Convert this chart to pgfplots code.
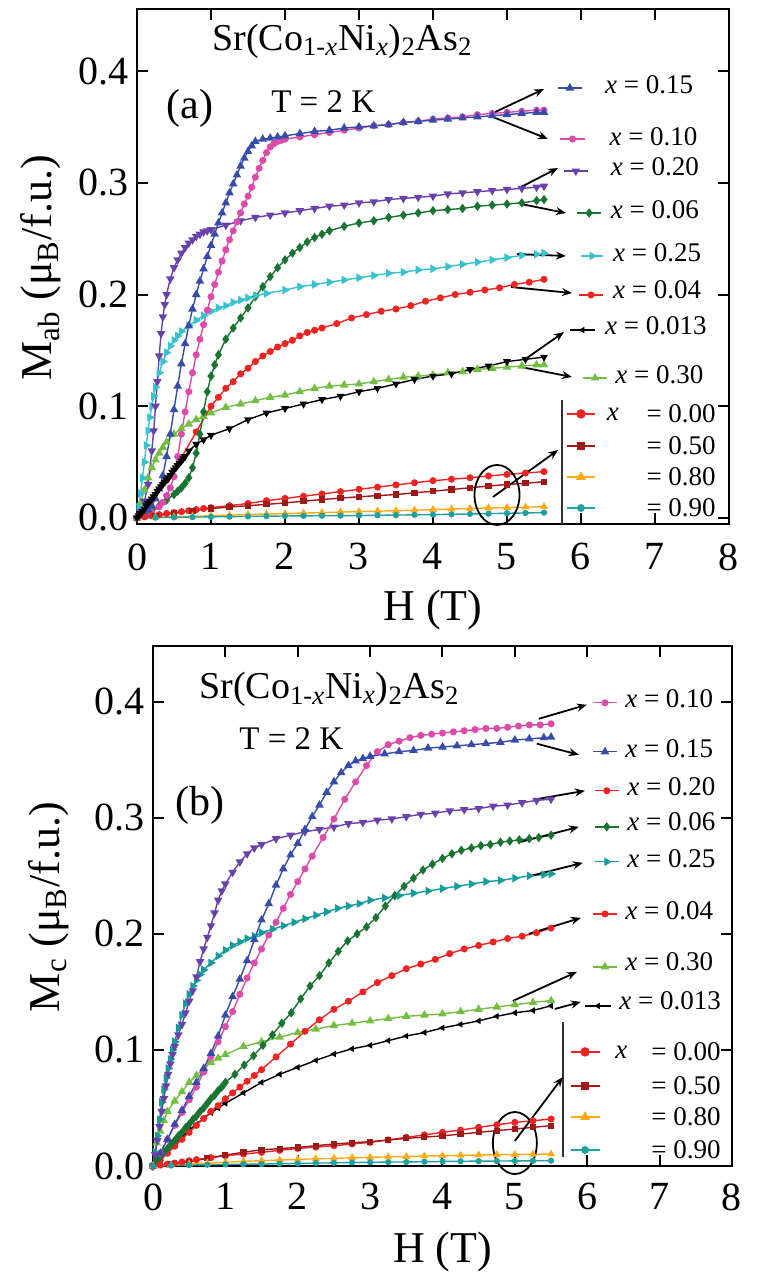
\documentclass[border=0pt]{standalone}
\usepackage{fontspec}
\setmainfont{Liberation Serif}
\usepackage{pgfplots}
\pgfplotsset{compat=1.18}
\usetikzlibrary{arrows.meta}

\definecolor{cblue}{HTML}{374BAA}
\definecolor{cpink}{HTML}{DC4BAA}
\definecolor{cpurple}{HTML}{6941AA}
\definecolor{cdgreen}{HTML}{197332}
\definecolor{ccyan}{HTML}{37C3CD}
\definecolor{cteal}{HTML}{149B9B}
\definecolor{cred}{HTML}{F02323}
\definecolor{clgreen}{HTML}{73BE41}
\definecolor{cdred}{HTML}{A01919}
\definecolor{corange}{HTML}{FFAA14}
\definecolor{cteal9}{HTML}{1EA0A0}

\newcommand{\tickfont}{\fontsize{20}{24}\selectfont}
\newcommand{\labfont}{\fontsize{22}{26}\selectfont}
\newcommand{\legfont}{\fontsize{13.5}{16}\selectfont}
\newcommand{\titfont}{\fontsize{19}{23}\selectfont}
\newcommand{\panfont}{\fontsize{21}{25}\selectfont}
\newcommand{\tfont}{\fontsize{16.5}{20}\selectfont}

\tikzset{arr/.style={-{Stealth[length=5pt,width=4pt]}, line width=0.9pt, black}}

\pgfplotsset{
  myax/.style={scale only axis, xmin=0, xmax=8, xtick={0,1,2,3,4,5,6,7,8},
    ytick={0,0.1,0.2,0.3,0.4},
    axis line style={line width=1pt},
    major tick style={line width=1pt, black},
    major tick length=5.5pt, tick align=inside,
    ticklabel style={font=\tickfont},
    /pgf/number format/assume math mode=true,
    yticklabel style={/pgf/number format/fixed, /pgf/number format/fixed zerofill, /pgf/number format/precision=1, inner sep=0pt, xshift=-4pt},
    clip=false,
    every axis plot/.append style={line width=0.7pt}},
  s15/.style={color=cblue, mark=triangle*, mark size=1.8pt},
  s10/.style={color=cpink, mark=*, mark size=1.4pt},
  s20/.style={color=cpurple, mark=triangle*, mark size=1.8pt, mark options={rotate=180}},
  s06/.style={color=cdgreen, mark=diamond*, mark size=1.8pt},
  s25a/.style={color=ccyan, mark=triangle*, mark size=1.8pt, mark options={rotate=-90}},
  s25b/.style={color=cteal, mark=triangle*, mark size=1.8pt, mark options={rotate=-90}},
  s04/.style={color=cred, mark=*, mark size=1.4pt},
  s013a/.style={color=black, mark=triangle*, mark size=1.6pt, mark options={rotate=180}},
  s013b/.style={color=black, mark=triangle*, mark size=1.2pt, mark options={rotate=90}},
  s30/.style={color=clgreen, mark=triangle*, mark size=1.8pt},
  s00/.style={color=cred, mark=*, mark size=1.4pt},
  s50/.style={color=cdred, mark=square*, mark size=1.2pt},
  s80/.style={color=corange, mark=triangle*, mark size=1.6pt},
  s90/.style={color=cteal9, mark=*, mark size=1.2pt},
}

\begin{document}
\begin{tikzpicture}
\path[use as bounding box] (0,0) rectangle (383.5pt,-641pt);

%%%%%%%%%%%%%%%%%%%%%%%% PANEL (a)
\begin{axis}[myax, at={(68.5pt,-262pt)}, anchor=south west,
  width=296pt, height=257.5pt, ymin=-0.0054, ymax=0.4555,
  xticklabel style={inner sep=0pt, yshift=-9.5pt}]
% x = 0.30
\addplot[s30] coordinates {(0,0) (0.05,0.014) (0.1,0.025) (0.15,0.036) (0.2,0.045) (0.25,0.052) (0.3,0.058) (0.35,0.063) (0.4,0.068) (0.5,0.075) (0.6,0.08) (0.7,0.084) (0.8,0.088) (0.9,0.091) (1.0,0.094) (1.2,0.099) (1.4,0.102) (1.6,0.105) (1.8,0.108) (2.0,0.11) (2.2,0.113) (2.4,0.116) (2.6,0.118) (2.8,0.119) (3.0,0.12) (3.2,0.122) (3.4,0.124) (3.6,0.126) (3.8,0.127) (4.0,0.128) (4.2,0.13) (4.4,0.131) (4.6,0.133) (4.8,0.134) (5.0,0.135) (5.2,0.136) (5.4,0.137) (5.5,0.137)};
% x = 0.04
\addplot[s04] coordinates {(0,0) (0.2,0.016) (0.4,0.034) (0.6,0.054) (0.8,0.077) (1.0,0.1) (1.1,0.108) (1.2,0.116) (1.3,0.122) (1.4,0.129) (1.5,0.134) (1.6,0.14) (1.7,0.145) (1.8,0.149) (1.9,0.153) (2.0,0.156) (2.1,0.159) (2.2,0.163) (2.3,0.166) (2.4,0.168) (2.5,0.17) (2.7,0.174) (2.9,0.179) (3.1,0.182) (3.3,0.185) (3.5,0.187) (3.7,0.19) (3.9,0.194) (4.1,0.197) (4.3,0.2) (4.5,0.202) (4.7,0.204) (4.9,0.206) (5.1,0.209) (5.3,0.211) (5.5,0.2136)};
% x = 0.06
\addplot[s06] coordinates {(0,0) (0.1,0.003) (0.2,0.007) (0.3,0.011) (0.4,0.016) (0.5,0.021) (0.55,0.024) (0.6,0.027) (0.65,0.031) (0.7,0.036) (0.75,0.045) (0.8,0.058) (0.85,0.075) (0.9,0.095) (0.95,0.113) (1.0,0.127) (1.05,0.137) (1.1,0.146) (1.2,0.16) (1.3,0.17) (1.4,0.179) (1.5,0.188) (1.6,0.198) (1.7,0.207) (1.8,0.216) (1.9,0.224) (2.0,0.231) (2.1,0.237) (2.2,0.242) (2.3,0.247) (2.4,0.251) (2.5,0.254) (2.6,0.257) (2.8,0.261) (3.0,0.264) (3.2,0.266) (3.4,0.269) (3.6,0.271) (3.8,0.273) (4.0,0.275) (4.2,0.276) (4.4,0.277) (4.6,0.279) (4.8,0.28) (5.0,0.281) (5.2,0.282) (5.4,0.284) (5.5,0.285)};
% x = 0.25
\addplot[s25a] coordinates {(0,0) (0.025,0.01) (0.05,0.022) (0.075,0.036) (0.1,0.05) (0.125,0.065) (0.15,0.078) (0.175,0.09) (0.2,0.1) (0.225,0.109) (0.25,0.117) (0.3,0.13) (0.35,0.14) (0.4,0.148) (0.45,0.154) (0.5,0.159) (0.55,0.163) (0.6,0.167) (0.7,0.172) (0.8,0.177) (0.9,0.181) (1.0,0.185) (1.1,0.188) (1.2,0.19) (1.3,0.193) (1.4,0.195) (1.5,0.197) (1.6,0.199) (1.75,0.201) (2.0,0.204) (2.2,0.207) (2.4,0.209) (2.6,0.211) (2.8,0.213) (3.0,0.215) (3.2,0.217) (3.4,0.219) (3.6,0.22) (3.8,0.222) (4.0,0.223) (4.2,0.225) (4.4,0.227) (4.6,0.229) (4.8,0.231) (5.0,0.233) (5.2,0.235) (5.4,0.236) (5.5,0.237)};
% x = 0.20
\addplot[s20] coordinates {(0,0) (0.05,0.006) (0.1,0.015) (0.15,0.03) (0.2,0.06) (0.225,0.078) (0.25,0.1) (0.275,0.122) (0.3,0.145) (0.325,0.165) (0.35,0.18) (0.375,0.191) (0.4,0.2) (0.45,0.214) (0.5,0.224) (0.55,0.231) (0.6,0.237) (0.65,0.242) (0.7,0.246) (0.75,0.249) (0.8,0.252) (0.85,0.254) (0.9,0.256) (0.95,0.257) (1.0,0.258) (1.2,0.262) (1.4,0.266) (1.6,0.269) (1.8,0.271) (2.0,0.273) (2.2,0.275) (2.4,0.277) (2.6,0.279) (2.8,0.28) (3.0,0.282) (3.2,0.283) (3.4,0.285) (3.6,0.286) (3.8,0.287) (4.0,0.288) (4.2,0.29) (4.4,0.291) (4.6,0.292) (4.8,0.293) (5.0,0.294) (5.2,0.295) (5.4,0.296) (5.5,0.297)};
% x = 0.10
\addplot[s10] coordinates {(0,0) (0.1,0.002) (0.2,0.005) (0.3,0.01) (0.35,0.014) (0.4,0.02) (0.45,0.027) (0.5,0.037) (0.55,0.055) (0.6,0.075) (0.65,0.095) (0.7,0.113) (0.75,0.13) (0.8,0.146) (0.85,0.16) (0.9,0.173) (0.95,0.186) (1.0,0.198) (1.05,0.209) (1.1,0.22) (1.15,0.23) (1.2,0.24) (1.25,0.249) (1.3,0.257) (1.35,0.265) (1.4,0.273) (1.45,0.281) (1.5,0.288) (1.55,0.296) (1.6,0.305) (1.65,0.313) (1.7,0.32) (1.75,0.327) (1.8,0.332) (1.85,0.335) (1.9,0.337) (1.95,0.338) (2.0,0.339) (2.2,0.341) (2.4,0.343) (2.6,0.345) (2.8,0.347) (3.0,0.349) (3.2,0.351) (3.4,0.352) (3.6,0.354) (3.8,0.355) (4.0,0.357) (4.2,0.358) (4.4,0.359) (4.6,0.361) (4.8,0.362) (5.0,0.363) (5.2,0.364) (5.4,0.365) (5.5,0.365)};
% x = 0.15
\addplot[s15] coordinates {(0,0) (0.05,0.002) (0.1,0.004) (0.15,0.007) (0.2,0.011) (0.25,0.017) (0.3,0.026) (0.35,0.038) (0.4,0.055) (0.45,0.075) (0.5,0.097) (0.55,0.118) (0.6,0.138) (0.65,0.156) (0.7,0.172) (0.75,0.187) (0.8,0.2) (0.85,0.212) (0.9,0.223) (0.95,0.234) (1.0,0.244) (1.05,0.254) (1.1,0.264) (1.15,0.273) (1.2,0.282) (1.25,0.291) (1.3,0.299) (1.35,0.307) (1.4,0.315) (1.45,0.322) (1.5,0.328) (1.55,0.333) (1.6,0.337) (1.7,0.339) (1.8,0.34) (1.9,0.341) (2.0,0.342) (2.2,0.344) (2.4,0.346) (2.6,0.347) (2.8,0.349) (3.0,0.35) (3.2,0.351) (3.4,0.352) (3.6,0.354) (3.8,0.355) (4.0,0.356) (4.2,0.357) (4.4,0.358) (4.6,0.359) (4.8,0.36) (5.0,0.361) (5.2,0.362) (5.4,0.363) (5.5,0.363)};
% x = 0.00, 0.50, 0.80, 0.90
\addplot[s00] coordinates {(0,0) (0.1,0.001) (0.2,0.002) (0.3,0.003) (0.4,0.004) (0.5,0.0048) (0.6,0.0056) (0.7,0.0065) (0.8,0.0075) (0.9,0.0085) (1.0,0.0092) (1.25,0.011) (1.5,0.013) (1.75,0.0155) (2.0,0.0175) (2.25,0.0195) (2.5,0.0215) (2.75,0.0236) (3.0,0.0257) (3.25,0.0276) (3.5,0.0296) (3.75,0.0315) (4.0,0.0334) (4.25,0.0347) (4.5,0.036) (4.75,0.0376) (5.0,0.039) (5.25,0.0402) (5.5,0.0415)};
\addplot[s50] coordinates {(0,0) (0.25,0.002) (0.5,0.0042) (0.75,0.0065) (1.0,0.0085) (1.25,0.0098) (1.5,0.011) (1.75,0.0122) (2.0,0.0135) (2.25,0.015) (2.5,0.0165) (2.75,0.0178) (3.0,0.019) (3.25,0.02) (3.5,0.021) (3.75,0.0225) (4.0,0.024) (4.25,0.0255) (4.5,0.027) (4.75,0.0286) (5.0,0.03) (5.25,0.031) (5.5,0.0325)};
\addplot[s80] coordinates {(0,0) (0.25,0.0006) (0.5,0.001) (0.75,0.0015) (1.0,0.002) (1.25,0.0025) (1.5,0.003) (1.75,0.0035) (2.0,0.004) (2.25,0.0044) (2.5,0.0048) (2.75,0.0053) (3.0,0.0057) (3.25,0.0061) (3.5,0.0065) (3.75,0.007) (4.0,0.0075) (4.25,0.008) (4.5,0.0085) (4.75,0.0089) (5.0,0.0093) (5.25,0.0097) (5.5,0.0101)};
\addplot[s90] coordinates {(0,0) (0.25,0.0003) (0.5,0.0006) (0.75,0.0008) (1.0,0.001) (1.25,0.0012) (1.5,0.0014) (1.75,0.0016) (2.0,0.0018) (2.25,0.0019) (2.5,0.002) (2.75,0.0021) (3.0,0.0022) (3.25,0.0024) (3.5,0.0026) (3.75,0.0028) (4.0,0.003) (4.25,0.0033) (4.5,0.0036) (4.75,0.0039) (5.0,0.0042) (5.25,0.0045) (5.5,0.0048)};
% x = 0.013 (drawn last, on top near the origin)
\addplot[s013a] coordinates {(0,0) (0.025,0.002) (0.05,0.004) (0.075,0.006) (0.1,0.008) (0.125,0.011) (0.15,0.013) (0.175,0.015) (0.2,0.017) (0.225,0.019) (0.25,0.021) (0.275,0.024) (0.3,0.026) (0.325,0.028) (0.35,0.03) (0.375,0.032) (0.4,0.034) (0.425,0.036) (0.45,0.038) (0.475,0.041) (0.5,0.043) (0.525,0.045) (0.55,0.047) (0.575,0.049) (0.6,0.051) (0.625,0.053) (0.65,0.055) (0.7,0.06) (0.8,0.066) (0.9,0.07) (1.0,0.074) (1.25,0.08) (1.5,0.088) (1.75,0.094) (2.0,0.098) (2.25,0.102) (2.5,0.106) (2.75,0.109) (3.0,0.113) (3.25,0.116) (3.5,0.12) (3.75,0.124) (4.0,0.127) (4.25,0.129) (4.5,0.133) (4.75,0.136) (5.0,0.14) (5.25,0.142) (5.5,0.144)};

% annotation samples (a)
\addplot[s15, mark indices={2}, forget plot] coordinates {(5.69,0.3848) (5.85,0.3848) (6.01,0.3848)};
\addplot[s10, mark indices={2}, forget plot] coordinates {(5.72,0.3392) (5.885,0.3392) (6.05,0.3392)};
\addplot[s20, mark indices={2}, forget plot] coordinates {(5.77,0.3105) (5.93,0.3105) (6.095,0.3105)};
\addplot[s06, mark indices={2}, forget plot] coordinates {(5.95,0.2729) (6.11,0.2729) (6.27,0.2729)};
\addplot[s25a, mark indices={2}, forget plot] coordinates {(6.0,0.2345) (6.15,0.2345) (6.30,0.2345)};
\addplot[s04, mark indices={2}, forget plot] coordinates {(5.97,0.1996) (6.135,0.1996) (6.30,0.1996)};
\addplot[s013b, mark indices={2}, forget plot] coordinates {(5.85,0.1682) (6.02,0.1682) (6.19,0.1682)};
\addplot[s30, mark indices={2}, forget plot] coordinates {(6.03,0.1253) (6.19,0.1253) (6.35,0.1253)};
\addplot[s00, mark size=2pt, mark indices={2}, forget plot] coordinates {(5.81,0.0931) (6.0,0.0931) (6.19,0.0931)};
\addplot[s50, mark size=1.8pt, mark indices={2}, forget plot] coordinates {(5.81,0.0644) (6.0,0.0644) (6.19,0.0644)};
\addplot[s80, mark size=2.2pt, mark indices={2}, forget plot] coordinates {(5.81,0.0367) (6.0,0.0367) (6.19,0.0367)};
\addplot[s90, mark size=1.6pt, mark indices={2}, forget plot] coordinates {(5.81,0.0089) (6.0,0.0089) (6.19,0.0089)};

\node[anchor=west, inner sep=0pt, font=\legfont] at (axis cs:6.32,0.3875) {\textit{x} = 0.15};
\node[anchor=west, inner sep=0pt, font=\legfont] at (axis cs:6.38,0.341) {\textit{x} = 0.10};
\node[anchor=west, inner sep=0pt, font=\legfont] at (axis cs:6.40,0.3141) {\textit{x} = 0.20};
\node[anchor=west, inner sep=0pt, font=\legfont] at (axis cs:6.40,0.2756) {\textit{x} = 0.06};
\node[anchor=west, inner sep=0pt, font=\legfont] at (axis cs:6.43,0.2371) {\textit{x} = 0.25};
\node[anchor=west, inner sep=0pt, font=\legfont] at (axis cs:6.43,0.204) {\textit{x} = 0.04};
\node[anchor=west, inner sep=0pt, font=\legfont] at (axis cs:6.32,0.1718) {\textit{x} = 0.013};
\node[anchor=west, inner sep=0pt, font=\legfont] at (axis cs:6.46,0.128) {\textit{x} = 0.30};
\node[inner sep=0pt, font=\legfont] at (axis cs:6.43,0.0931) {\textit{x}};
\node[anchor=west, inner sep=0pt, font=\legfont] at (axis cs:6.88,0.0931) {= 0.00};
\node[anchor=west, inner sep=0pt, font=\legfont] at (axis cs:6.88,0.0644) {= 0.50};
\node[anchor=west, inner sep=0pt, font=\legfont] at (axis cs:6.88,0.0367) {= 0.80};
\node[anchor=west, inner sep=0pt, font=\legfont] at (axis cs:6.88,0.0089) {= 0.90};
\draw[line width=0.9pt, black!80] (axis cs:5.74,0.1056) -- (axis cs:5.74,-0.0054);

\draw[arr] (axis cs:4.81,0.3624) -- (axis cs:5.5,0.3839);
\draw[arr] (axis cs:4.81,0.3588) -- (axis cs:5.554,0.3392);
\draw[arr] (axis cs:5.162,0.2953) -- (axis cs:5.689,0.3132);
\draw[arr] (axis cs:5.189,0.281) -- (axis cs:5.797,0.2729);
\draw[arr] (axis cs:5.135,0.2362) -- (axis cs:5.797,0.2345);
\draw[arr] (axis cs:5.054,0.2067) -- (axis cs:5.878,0.2013);
\draw[arr] (axis cs:5.23,0.1414) -- (axis cs:5.77,0.1664);
\draw[arr] (axis cs:5.189,0.1351) -- (axis cs:5.878,0.1262);
\draw[arr] (axis cs:4.81,0.0188) -- (axis cs:5.69,0.0608);
\draw[line width=0.9pt] (axis cs:4.865,0.0206) ellipse [x radius=11.25pt, y radius=15pt];

\node[anchor=base west, inner sep=0pt, font=\titfont] at (axis cs:1.0135,0.4188) {Sr(Co\textsubscript{1-\textit{x}}Ni\textsubscript{\textit{x}})\textsubscript{2}As\textsubscript{2}};
\node[inner sep=0pt, font=\panfont] at (axis cs:0.716,0.3669) {(a)};
\node[anchor=west, inner sep=0pt, font=\tfont] at (axis cs:1.81,0.3723) {T = 2 K};
\end{axis}

%%%%%%%%%%%%%%%%%%%%%%%% PANEL (b)
\begin{axis}[myax, at={(76.5pt,-583pt)}, anchor=south west,
  width=289.5pt, height=260pt, ymin=0, ymax=0.448,
  xticklabel style={inner sep=0pt, yshift=-8.5pt}]
% x = 0.013
\addplot[s013b] coordinates {(0,0) (0.1,0.006) (0.2,0.013) (0.3,0.019) (0.4,0.025) (0.5,0.031) (0.6,0.036) (0.7,0.041) (0.8,0.046) (0.9,0.05) (1.0,0.054) (1.25,0.063) (1.5,0.072) (1.75,0.079) (2.0,0.085) (2.25,0.091) (2.5,0.0965) (2.75,0.101) (3.0,0.104) (3.25,0.108) (3.5,0.112) (3.75,0.115) (4.0,0.119) (4.25,0.122) (4.5,0.125) (4.75,0.129) (5.0,0.132) (5.25,0.134) (5.5,0.138)};
% x = 0.30
\addplot[s30] coordinates {(0,0) (0.05,0.02) (0.1,0.03) (0.15,0.039) (0.2,0.047) (0.3,0.056) (0.4,0.064) (0.5,0.072) (0.6,0.078) (0.7,0.084) (0.8,0.089) (0.9,0.093) (1.0,0.096) (1.25,0.103) (1.5,0.107) (1.75,0.111) (2.0,0.115) (2.25,0.118) (2.5,0.121) (2.75,0.123) (3.0,0.125) (3.25,0.127) (3.5,0.129) (3.75,0.13) (4.0,0.131) (4.25,0.133) (4.5,0.135) (4.75,0.137) (5.0,0.139) (5.25,0.141) (5.5,0.1425)};
% x = 0.04
\addplot[s04] coordinates {(0,0) (0.1,0.005) (0.2,0.011) (0.3,0.017) (0.4,0.023) (0.5,0.029) (0.6,0.035) (0.7,0.041) (0.8,0.047) (0.9,0.052) (1.0,0.058) (1.1,0.063) (1.2,0.068) (1.3,0.073) (1.4,0.078) (1.5,0.083) (1.7,0.094) (1.9,0.105) (2.1,0.116) (2.3,0.126) (2.5,0.135) (2.7,0.142) (2.9,0.15) (3.1,0.158) (3.3,0.164) (3.5,0.17) (3.7,0.174) (3.9,0.178) (4.1,0.183) (4.3,0.187) (4.5,0.19) (4.7,0.193) (4.9,0.196) (5.1,0.198) (5.3,0.201) (5.5,0.205)};
% x = 0.06
\addplot[s06] coordinates {(0,0) (0.05,0.004) (0.1,0.008) (0.15,0.012) (0.2,0.015) (0.25,0.019) (0.3,0.022) (0.35,0.026) (0.4,0.029) (0.45,0.033) (0.5,0.036) (0.55,0.04) (0.6,0.043) (0.65,0.047) (0.7,0.05) (0.75,0.054) (0.8,0.058) (0.85,0.061) (0.9,0.065) (0.95,0.068) (1.0,0.072) (1.13,0.079) (1.26,0.087) (1.39,0.095) (1.52,0.104) (1.65,0.113) (1.78,0.123) (1.91,0.132) (2.04,0.144) (2.17,0.155) (2.3,0.164) (2.43,0.175) (2.56,0.185) (2.69,0.194) (2.82,0.2) (2.95,0.206) (3.08,0.214) (3.21,0.224) (3.34,0.233) (3.47,0.241) (3.6,0.248) (3.73,0.255) (3.86,0.26) (4.0,0.265) (4.13,0.269) (4.26,0.272) (4.4,0.274) (4.53,0.276) (4.66,0.277) (4.8,0.279) (4.93,0.28) (5.06,0.281) (5.2,0.282) (5.33,0.283) (5.5,0.285)};
% x = 0.25
\addplot[s25b] coordinates {(0,0) (0.03,0.012) (0.06,0.026) (0.09,0.04) (0.12,0.055) (0.15,0.066) (0.18,0.076) (0.21,0.084) (0.24,0.092) (0.27,0.1) (0.3,0.107) (0.35,0.119) (0.4,0.13) (0.45,0.14) (0.5,0.148) (0.55,0.155) (0.6,0.16) (0.65,0.165) (0.7,0.169) (0.8,0.175) (0.9,0.181) (1.0,0.186) (1.1,0.19) (1.2,0.193) (1.3,0.196) (1.4,0.198) (1.5,0.201) (1.65,0.204) (1.8,0.207) (1.95,0.21) (2.1,0.213) (2.25,0.216) (2.4,0.219) (2.55,0.222) (2.7,0.224) (2.85,0.226) (3.0,0.229) (3.2,0.231) (3.4,0.233) (3.6,0.235) (3.8,0.237) (4.0,0.239) (4.2,0.241) (4.4,0.243) (4.6,0.245) (4.8,0.246) (5.0,0.248) (5.2,0.25) (5.4,0.251) (5.5,0.2517)};
% x = 0.20
\addplot[s20] coordinates {(0,0) (0.03,0.01) (0.06,0.022) (0.09,0.034) (0.12,0.047) (0.15,0.058) (0.18,0.069) (0.21,0.079) (0.24,0.088) (0.27,0.096) (0.3,0.103) (0.35,0.113) (0.4,0.122) (0.45,0.132) (0.5,0.142) (0.55,0.151) (0.6,0.163) (0.65,0.176) (0.7,0.187) (0.75,0.197) (0.8,0.207) (0.85,0.218) (0.9,0.229) (0.95,0.237) (1.0,0.243) (1.1,0.253) (1.2,0.262) (1.3,0.269) (1.4,0.274) (1.5,0.277) (1.7,0.282) (1.9,0.285) (2.1,0.288) (2.3,0.29) (2.5,0.292) (2.7,0.295) (2.9,0.296) (3.1,0.298) (3.3,0.299) (3.5,0.301) (3.7,0.303) (3.9,0.304) (4.1,0.306) (4.3,0.307) (4.5,0.308) (4.7,0.31) (4.9,0.311) (5.1,0.313) (5.3,0.315) (5.5,0.316)};
% x = 0.10
\addplot[s10] coordinates {(0,0) (0.1,0.011) (0.2,0.023) (0.3,0.035) (0.4,0.046) (0.5,0.057) (0.6,0.068) (0.7,0.081) (0.8,0.094) (0.9,0.107) (1.0,0.12) (1.1,0.133) (1.2,0.148) (1.3,0.162) (1.4,0.175) (1.5,0.187) (1.6,0.199) (1.7,0.21) (1.8,0.222) (1.9,0.234) (2.0,0.245) (2.1,0.256) (2.2,0.267) (2.35,0.283) (2.5,0.299) (2.65,0.316) (2.8,0.331) (2.95,0.345) (3.1,0.357) (3.25,0.363) (3.4,0.366) (3.55,0.369) (3.7,0.371) (3.85,0.372) (4.0,0.373) (4.15,0.374) (4.3,0.375) (4.45,0.376) (4.6,0.377) (4.75,0.377) (4.9,0.378) (5.05,0.379) (5.2,0.38) (5.35,0.38) (5.5,0.381)};
% x = 0.15
\addplot[s15] coordinates {(0,0) (0.1,0.011) (0.2,0.023) (0.3,0.036) (0.4,0.048) (0.5,0.06) (0.6,0.072) (0.7,0.084) (0.8,0.097) (0.9,0.112) (1.0,0.13) (1.1,0.146) (1.2,0.161) (1.3,0.177) (1.4,0.195) (1.5,0.212) (1.6,0.226) (1.7,0.242) (1.8,0.256) (1.9,0.268) (2.0,0.278) (2.1,0.29) (2.2,0.301) (2.3,0.311) (2.4,0.322) (2.5,0.331) (2.6,0.339) (2.7,0.345) (2.8,0.349) (2.9,0.351) (3.0,0.353) (3.2,0.355) (3.4,0.357) (3.6,0.358) (3.8,0.36) (4.0,0.361) (4.2,0.362) (4.4,0.363) (4.6,0.364) (4.8,0.365) (5.0,0.367) (5.2,0.368) (5.4,0.369) (5.5,0.3695)};
% x = 0.00, 0.50, 0.80, 0.90
\addplot[s00] coordinates {(0,0) (0.1,0.0008) (0.2,0.0016) (0.3,0.0025) (0.4,0.0035) (0.5,0.0045) (0.6,0.0055) (0.8,0.0072) (1.0,0.0089) (1.25,0.0103) (1.5,0.0118) (1.75,0.0135) (2.0,0.0152) (2.25,0.0163) (2.5,0.0175) (2.75,0.019) (3.0,0.0204) (3.25,0.0225) (3.5,0.0247) (3.75,0.0268) (4.0,0.029) (4.25,0.031) (4.5,0.0333) (4.75,0.0355) (5.0,0.0376) (5.25,0.039) (5.5,0.0405)};
\addplot[s50] coordinates {(0,0) (0.25,0.0018) (0.5,0.0037) (0.75,0.0066) (1.0,0.0095) (1.25,0.0118) (1.5,0.014) (1.75,0.015) (2.0,0.016) (2.25,0.0175) (2.5,0.019) (2.75,0.02) (3.0,0.021) (3.25,0.0224) (3.5,0.0238) (3.75,0.0249) (4.0,0.026) (4.25,0.0275) (4.5,0.029) (4.75,0.0305) (5.0,0.0319) (5.25,0.0333) (5.5,0.0348)};
\addplot[s80] coordinates {(0,0) (0.25,0.0008) (0.5,0.0017) (0.75,0.0025) (1.0,0.0033) (1.25,0.004) (1.5,0.0046) (1.75,0.0052) (2.0,0.0057) (2.25,0.0062) (2.5,0.0066) (2.75,0.0071) (3.0,0.0075) (3.25,0.0079) (3.5,0.0082) (3.75,0.0086) (4.0,0.0089) (4.25,0.0092) (4.5,0.0095) (4.75,0.0097) (5.0,0.0099) (5.25,0.0101) (5.5,0.0103)};
\addplot[s90] coordinates {(0,0) (0.25,0.0004) (0.5,0.0008) (0.75,0.0011) (1.0,0.0014) (1.25,0.0016) (1.5,0.0017) (1.75,0.002) (2.0,0.0022) (2.25,0.0025) (2.5,0.0027) (2.75,0.003) (3.0,0.0032) (3.25,0.0034) (3.5,0.0035) (3.75,0.0037) (4.0,0.0039) (4.25,0.0041) (4.5,0.0042) (4.75,0.0043) (5.0,0.0044) (5.25,0.0045) (5.5,0.0046)};

% annotation samples (b)
\addplot[s10, mark indices={2}, forget plot] coordinates {(6.08,0.3991) (6.245,0.3991) (6.41,0.3991)};
\addplot[s15, mark indices={2}, forget plot] coordinates {(6.08,0.3569) (6.245,0.3569) (6.41,0.3569)};
\addplot[s04, mark indices={2}, forget plot] coordinates {(6.105,0.3233) (6.27,0.3233) (6.436,0.3233)};
\addplot[s06, mark indices={2}, forget plot] coordinates {(6.105,0.2922) (6.27,0.2922) (6.436,0.2922)};
\addplot[s25b, mark indices={2}, forget plot] coordinates {(6.105,0.2621) (6.27,0.2621) (6.436,0.2621)};
\addplot[s04, mark indices={2}, forget plot] coordinates {(6.08,0.2172) (6.245,0.2172) (6.41,0.2172)};
\addplot[s30, mark indices={2}, forget plot] coordinates {(6.08,0.1716) (6.245,0.1716) (6.41,0.1716)};
\addplot[s013b, mark indices={2}, forget plot] coordinates {(5.97,0.1379) (6.15,0.1379) (6.33,0.1379)};
\addplot[s00, mark size=2pt, mark indices={2}, forget plot] coordinates {(5.77,0.0983) (5.97,0.0983) (6.17,0.0983)};
\addplot[s50, mark size=1.8pt, mark indices={2}, forget plot] coordinates {(5.77,0.069) (5.97,0.069) (6.17,0.069)};
\addplot[s80, mark size=2.2pt, mark indices={2}, forget plot] coordinates {(5.77,0.0422) (5.97,0.0422) (6.17,0.0422)};
\addplot[s90, mark size=1.6pt, mark indices={2}, forget plot] coordinates {(5.77,0.0138) (5.97,0.0138) (6.17,0.0138)};

\node[anchor=west, inner sep=0pt, font=\legfont] at (axis cs:6.52,0.4026) {\textit{x} = 0.10};
\node[anchor=west, inner sep=0pt, font=\legfont] at (axis cs:6.52,0.3595) {\textit{x} = 0.15};
\node[anchor=west, inner sep=0pt, font=\legfont] at (axis cs:6.55,0.3267) {\textit{x} = 0.20};
\node[anchor=west, inner sep=0pt, font=\legfont] at (axis cs:6.55,0.2966) {\textit{x} = 0.06};
\node[anchor=west, inner sep=0pt, font=\legfont] at (axis cs:6.55,0.2647) {\textit{x} = 0.25};
\node[anchor=west, inner sep=0pt, font=\legfont] at (axis cs:6.52,0.2198) {\textit{x} = 0.04};
\node[anchor=west, inner sep=0pt, font=\legfont] at (axis cs:6.52,0.1759) {\textit{x} = 0.30};
\node[anchor=west, inner sep=0pt, font=\legfont] at (axis cs:6.44,0.1422) {\textit{x} = 0.013};
\node[inner sep=0pt, font=\legfont] at (axis cs:6.47,0.0983) {\textit{x}};
\node[anchor=west, inner sep=0pt, font=\legfont] at (axis cs:6.88,0.0983) {= 0.00};
\node[anchor=west, inner sep=0pt, font=\legfont] at (axis cs:6.88,0.069) {= 0.50};
\node[anchor=west, inner sep=0pt, font=\legfont] at (axis cs:6.88,0.0422) {= 0.80};
\node[anchor=west, inner sep=0pt, font=\legfont] at (axis cs:6.88,0.0138) {= 0.90};
\draw[line width=0.9pt, black!80] (axis cs:5.66,0.124) -- (axis cs:5.66,0.0078);

\draw[arr] (axis cs:5.331,0.3853) -- (axis cs:5.994,0.3974);
\draw[arr] (axis cs:5.304,0.3638) -- (axis cs:5.884,0.3543);
\draw[arr] (axis cs:5.331,0.3164) -- (axis cs:5.967,0.3233);
\draw[arr] (axis cs:5.083,0.2793) -- (axis cs:5.884,0.2922);
\draw[arr] (axis cs:5.221,0.25) -- (axis cs:5.939,0.2612);
\draw[arr] (axis cs:5.193,0.2) -- (axis cs:5.912,0.2138);
\draw[arr] (axis cs:4.972,0.1422) -- (axis cs:5.856,0.1672);
\draw[arr] (axis cs:5.552,0.1353) -- (axis cs:5.912,0.1414);
\draw[arr] (axis cs:5.0,0.0216) -- (axis cs:5.663,0.0767);
\draw[line width=0.9pt] (axis cs:5.0,0.0198) ellipse [x radius=11pt, y radius=15.5pt];

\node[anchor=base west, inner sep=0pt, font=\titfont] at (axis cs:0.635,0.4026) {Sr(Co\textsubscript{1-\textit{x}}Ni\textsubscript{\textit{x}})\textsubscript{2}As\textsubscript{2}};
\node[inner sep=0pt, font=\panfont] at (axis cs:0.649,0.311) {(b)};
\node[anchor=west, inner sep=0pt, font=\tfont] at (axis cs:1.188,0.368) {T = 2 K};
\end{axis}

% axis labels
\node[rotate=90, anchor=base, font=\labfont] at (26pt,-134pt) {M\textsubscript{ab} (μ\textsubscript{B}/f.u.)};
\node[rotate=90, anchor=base, font=\labfont] at (30pt,-453.5pt) {M\textsubscript{c} (μ\textsubscript{B}/f.u.)};
\node[anchor=base, font=\labfont] at (216.5pt,-310pt) {H (T)};
\node[anchor=base, font=\labfont] at (221.25pt,-631pt) {H (T)};
\end{tikzpicture}
\end{document}
